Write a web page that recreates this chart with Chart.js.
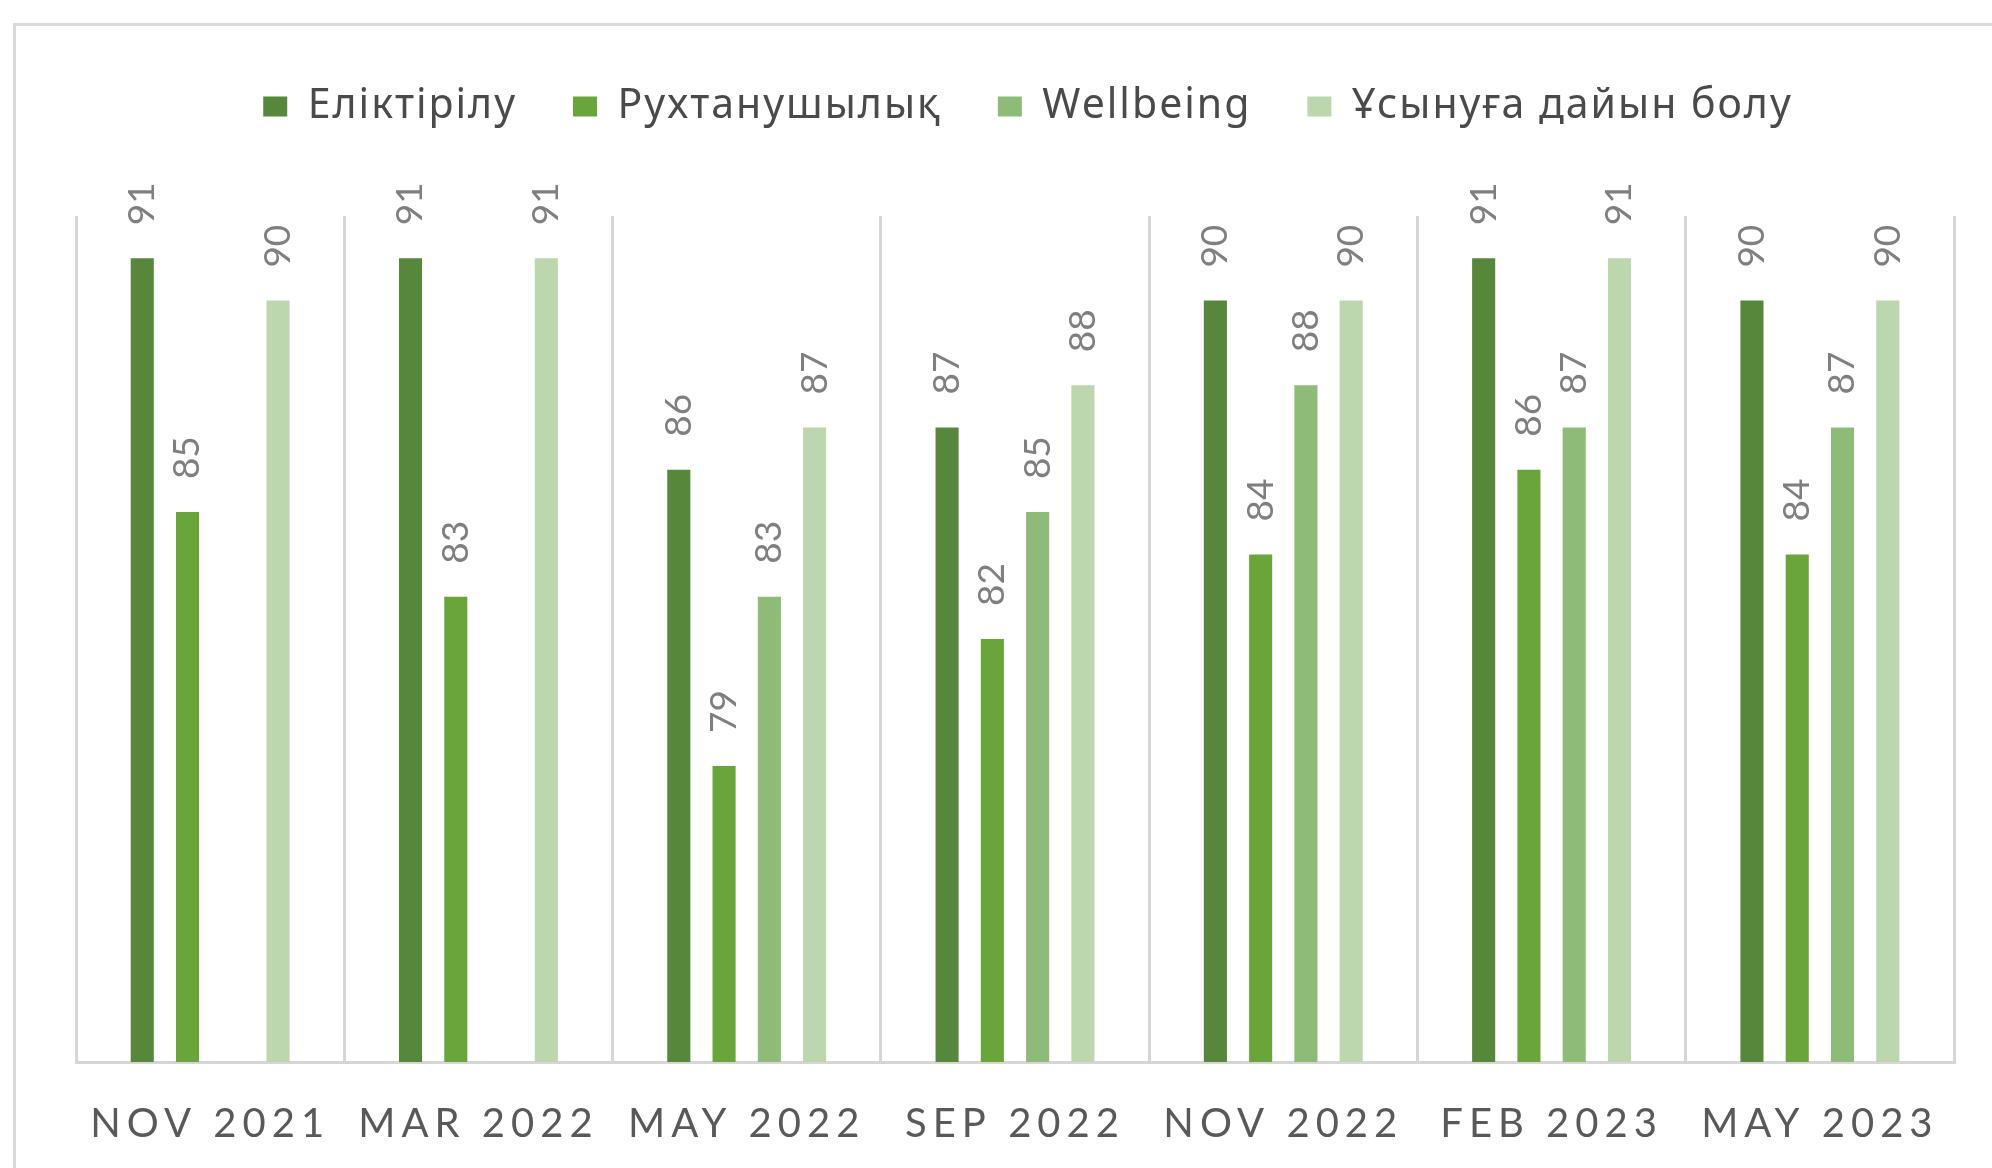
<!DOCTYPE html>
<html>
<head>
<meta charset="utf-8">
<script src="https://cdn.jsdelivr.net/npm/chart.js@4/dist/chart.umd.min.js"></script>
<style>
  html, body { margin: 0; padding: 0; background: #ffffff; overflow: hidden; }
  #wrap { position: relative; width: 1992px; height: 1168px; }
  #frame { position: absolute; left: 13px; top: 23px; width: 2100px; height: 1300px;
           border-left: 3px solid #d9d9d9; border-top: 3px solid #d9d9d9; box-sizing: border-box; }
  #box { position: absolute; left: 0; top: 0; width: 1992px; height: 1168px; }
</style>
</head>
<body>
<div id="wrap">
  <div id="frame"></div>
  <div id="box"><canvas id="c"></canvas></div>
</div>
<script>
// ---- data ----
const categories = ['NOV 2021', 'MAR 2022', 'MAY 2022', 'SEP 2022', 'NOV 2022', 'FEB 2023', 'MAY 2023'];
const seriesNames = ['Еліктірілу', 'Рухтанушылық', 'Wellbeing', 'Ұсынуға дайын болу'];
const eliktirilu   = [91, 91, 86, 87, 90, 91, 90];
const rukhtanushylyk = [85, 83, 79, 82, 84, 86, 84];
const wellbeing    = [null, null, 83, 85, 88, 87, 87];
const usynuga      = [90, 91, 87, 88, 90, 91, 90];
const seriesColors = ['#56873a', '#6aa53c', '#8fbb78', '#bcd6ae'];

// ---- style constants ----
const LEGEND_SPACING = '2px';
const LEGEND_SHIFT = 13;
const XLABEL_SPACING = '6px';
const LABEL_GAP = 33;

function withSpacing(obj, method, spacing, shift) {
  const orig = obj[method];
  obj[method] = function (...args) {
    const c = this.ctx;
    c.save();
    c.letterSpacing = spacing;
    if (shift) c.translate(shift, 0);
    try { return orig.apply(this, args); } finally { c.restore(); }
  };
}

const spacingPlugin = {
  id: 'spacing',
  beforeLayout(chart) {
    const lg = chart.legend;
    if (lg && !lg.__sp) {
      withSpacing(lg, 'fit', LEGEND_SPACING, 0);
      withSpacing(lg, 'draw', LEGEND_SPACING, LEGEND_SHIFT);
      lg.__sp = true;
    }
    const sx = chart.scales && chart.scales.x;
    if (sx && !sx.__sp) {
      withSpacing(sx, 'drawLabels', XLABEL_SPACING, 0);
      sx.__sp = true;
    }
  }
};

const valueLabels = {
  id: 'valueLabels',
  afterDatasetsDraw(chart) {
    const ctx = chart.ctx;
    ctx.save();
    ctx.font = '37px Lato, "Open Sans", sans-serif';
    ctx.fillStyle = '#7f7f7f';
    ctx.textAlign = 'left';
    ctx.textBaseline = 'middle';
    chart.data.datasets.forEach((ds, i) => {
      const meta = chart.getDatasetMeta(i);
      meta.data.forEach((bar, j) => {
        const v = ds.data[j];
        if (v === null || v === undefined) return;
        ctx.save();
        ctx.translate(bar.x, bar.y - LABEL_GAP);
        ctx.rotate(-Math.PI / 2);
        ctx.fillText(String(v), 0, 0);
        ctx.restore();
      });
    });
    ctx.restore();
  }
};

const seriesData = [eliktirilu, rukhtanushylyk, wellbeing, usynuga];

new Chart(document.getElementById('c'), {
  type: 'bar',
  data: {
    labels: categories,
    datasets: seriesNames.map((name, i) => ({
      label: name,
      data: seriesData[i],
      backgroundColor: seriesColors[i],
      borderWidth: 0,
      barPercentage: 0.51,
      categoryPercentage: 0.675
    }))
  },
  options: {
    responsive: true,
    maintainAspectRatio: false,
    animation: false,
    devicePixelRatio: 1,
    layout: { padding: { left: 76, right: 38, top: 30, bottom: 0 } },
    plugins: {
      tooltip: { enabled: false },
      legend: {
        position: 'top',
        labels: {
          color: '#4a4a4a',
          font: { family: '"Noto Sans", "Open Sans", sans-serif', size: 41 },
          boxWidth: 24,
          boxHeight: 20,
          padding: 56
        }
      },
      title: {
        display: true,
        text: '',
        weight: 500,
        padding: { top: 0, bottom: 0 },
        font: { size: 79, lineHeight: 1 }
      }
    },
    scales: {
      x: {
        grid: { display: true, color: '#d6d6d6', lineWidth: 3, drawTicks: false, offset: true },
        border: { display: true, color: '#d6d6d6', width: 3 },
        ticks: {
          color: '#595959',
          font: { family: 'Lato, "Open Sans", sans-serif', size: 40 },
          padding: 38,
          autoSkip: false,
          maxRotation: 0,
          minRotation: 0
        },
        afterFit(s) { s.height = 106; }
      },
      y: {
        display: false,
        min: 72,
        max: 92,
        grid: { display: false }
      }
    }
  },
  plugins: [spacingPlugin, valueLabels]
});
</script>
</body>
</html>
